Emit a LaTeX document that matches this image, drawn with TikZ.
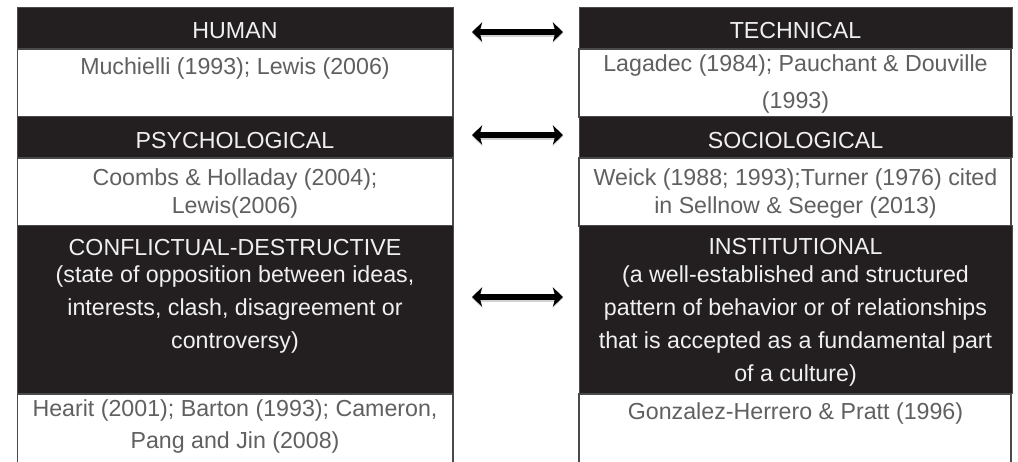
\documentclass[tikz,border=0pt]{standalone}
\usepackage{fontspec}
\setmainfont{Liberation Sans}
\usetikzlibrary{arrows.meta}
\definecolor{cellblack}{HTML}{231F20}
\definecolor{celltext}{HTML}{606060}
\definecolor{cellrule}{HTML}{4A4A4A}
\begin{document}
\begin{tikzpicture}[x=1pt,y=-1pt,
  hdr/.style={fill=cellblack, draw=cellrule, line width=1pt},
  refcell/.style={fill=white, draw=cellrule, line width=1.8pt},
  htext/.style={anchor=base, inner sep=0pt, text=white!94!black,
    font=\fontsize{23.2}{27}\selectfont},
  rtext/.style={anchor=base, inner sep=0pt, text=celltext,
    font=\fontsize{23.2}{27}\selectfont},
  tip/.tip={Stealth[length=10pt,width=19pt,inset=2.5pt]},
  softtip/.tip={Stealth[length=11pt,width=21pt,inset=2.5pt]},
  link/.style={line width=6.5pt, tip-tip},
  linkshade/.style={line width=8pt, softtip-softtip, draw=black!35, opacity=0.5}
]
\useasboundingbox (0,0) rectangle (1018,462);
\clip (0,0) rectangle (1018,462);

% reference cells (white)
\path[refcell] (17.5,49) rectangle (453,117);
\path[refcell] (17.5,158) rectangle (453,226);
\path[refcell] (17.5,394) rectangle (453,470);
\path[refcell] (579,49) rectangle (1011,117);
\path[refcell] (579,158) rectangle (1011,226);
\path[refcell] (579,394) rectangle (1011,470);

% category headers (black)
\path[hdr] (17.5,8) rectangle (453,49);
\path[hdr] (17.5,117) rectangle (453,158);
\path[hdr] (17.5,226) rectangle (453,394);
\path[hdr] (579,8) rectangle (1012,49);
\path[hdr] (579,117) rectangle (1012,158);
\path[hdr] (579,226) rectangle (1012,394);

% left column
\node[htext] (human) at (235,38.3) {HUMAN};
\node[rtext] (humanref) at (235,75) {Muchielli (1993); Lewis (2006)};
\node[htext] (psy) at (235,148.3) {PSYCHOLOGICAL};
\node[rtext] (psyrefa) at (235,185.5) {Coombs \& Holladay (2004);};
\node[rtext] (psyrefb) at (235,213.3) {Lewis(2006)};
\node[htext] (conf) at (235,256) {CONFLICTUAL-DESTRUCTIVE};
\node[htext] (confa) at (235,283) {(state of opposition between ideas,};
\node[htext] (confb) at (235,316) {interests, clash, disagreement or};
\node[htext] (confc) at (235,349) {controversy)};
\node[rtext] (confrefa) at (235,417) {Hearit (2001); Barton (1993); Cameron,};
\node[rtext] (confrefb) at (235,448) {Pang and Jin (2008)};

% right column
\node[htext] (tech) at (795.5,38.3) {TECHNICAL};
\node[rtext] (techrefa) at (795.5,72) {Lagadec (1984); Pauchant \& Douville};
\node[rtext] (techrefb) at (795.5,109) {(1993)};
\node[htext] (soc) at (795.5,148.3) {SOCIOLOGICAL};
\node[rtext] (socrefa) at (795.5,185.5) {Weick (1988; 1993);Turner (1976) cited};
\node[rtext] (socrefb) at (795.5,213.3) {in Sellnow \& Seeger (2013)};
\node[htext] (inst) at (795.5,255) {INSTITUTIONAL};
\node[htext] (insta) at (795.5,283) {(a well-established and structured};
\node[htext] (instb) at (795.5,316) {pattern of behavior or of relationships};
\node[htext] (instc) at (795.5,349) {that is accepted as a fundamental part};
\node[htext] (instd) at (795.5,382) {of a culture)};
\node[rtext] (instref) at (795.5,420) {Gonzalez-Herrero \& Pratt (1996)};

% two-way links between paired categories
\coordinate (l1) at (472,32);  \coordinate (r1) at (563,32);
\coordinate (l2) at (472,135); \coordinate (r2) at (563,135);
\coordinate (l3) at (472,297); \coordinate (r3) at (563,297);
\foreach \a/\b in {l1/r1, l2/r2, l3/r3}{
  \draw[linkshade] ([yshift=-0.8pt,xshift=-0.5pt]\a) -- ([yshift=-0.8pt,xshift=0.5pt]\b);
  \draw[link] (\a) -- (\b);
}
\end{tikzpicture}
\end{document}
